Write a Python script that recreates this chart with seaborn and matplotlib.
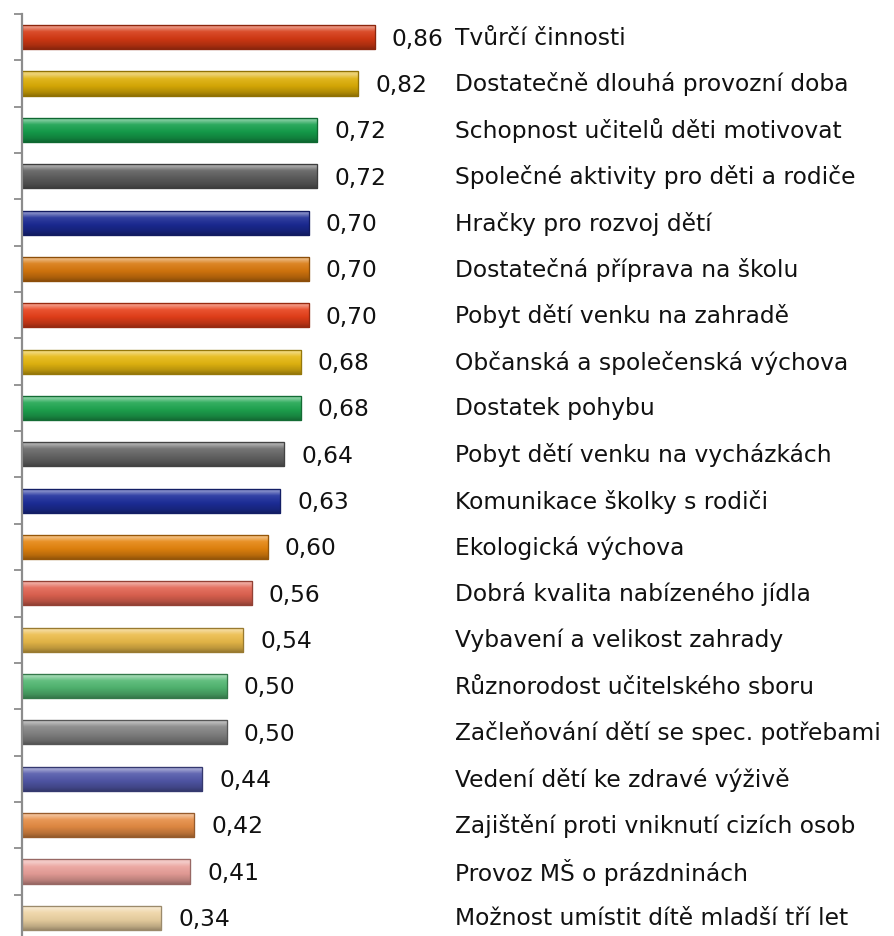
import numpy as np
import pandas as pd
import matplotlib
matplotlib.use("Agg")
import matplotlib.pyplot as plt
import matplotlib.colors as mcolors
import seaborn as sns

categories = [
    "Tvůrčí činnosti",
    "Dostatečně dlouhá provozní doba",
    "Schopnost učitelů děti motivovat",
    "Společné aktivity pro děti a rodiče",
    "Hračky pro rozvoj dětí",
    "Dostatečná příprava na školu",
    "Pobyt dětí venku na zahradě",
    "Občanská a společenská výchova",
    "Dostatek pohybu",
    "Pobyt dětí venku na vycházkách",
    "Komunikace školky s rodiči",
    "Ekologická výchova",
    "Dobrá kvalita nabízeného jídla",
    "Vybavení a velikost zahrady",
    "Různorodost učitelského sboru",
    "Začleňování dětí se spec. potřebami",
    "Vedení dětí ke zdravé výživě",
    "Zajištění proti vniknutí cizích osob",
    "Provoz MŠ o prázdninách",
    "Možnost umístit dítě mladší tří let",
]
values = [0.86, 0.82, 0.72, 0.72, 0.70, 0.70, 0.70, 0.68, 0.68, 0.64,
          0.63, 0.60, 0.56, 0.54, 0.50, 0.50, 0.44, 0.42, 0.41, 0.34]
value_labels = ["0,86", "0,82", "0,72", "0,72", "0,70", "0,70", "0,70", "0,68", "0,68", "0,64",
                "0,63", "0,60", "0,56", "0,54", "0,50", "0,50", "0,44", "0,42", "0,41", "0,34"]
bar_colors = [
    "#D63A14", "#DDAE06", "#15A04C", "#5E5E5E", "#1B2A95", "#D8780E",
    "#E8401A", "#E6B810", "#1EA650", "#676767", "#1D2E9C", "#E6850E",
    "#E26452", "#ECBC4A", "#52B872", "#848484", "#5258AA", "#E68C44",
    "#EAA09A", "#EED4A4",
]

df = pd.DataFrame({"cat": categories, "val": values})

sns.set_style("white")
plt.rcParams['font.family'] = ['DejaVu Sans']

W, H = 895, 936
fig = plt.figure(figsize=(W / 100, H / 100), dpi=100)
px_unit = 410.0
left_px, top_px, step = 22.0, 14.0, 46.35
n = len(categories)
ax = fig.add_axes([left_px / W, 1 - (top_px + n * step) / H, px_unit / W, n * step / H])

sns.barplot(data=df, x="val", y="cat", hue="cat", palette=bar_colors, legend=False,
            orient="h", width=0.52, ax=ax, saturation=1)

ax.set_xlim(0, 1)
ax.set_ylim(n - 0.5, -0.5)

# bevel / gradient effect
def shade(c, f):
    r, g, b = mcolors.to_rgb(c)
    if f >= 0:
        return (r + (1 - r) * f, g + (1 - g) * f, b + (1 - b) * f)
    f = -f
    return (r * (1 - f), g * (1 - f), b * (1 - f))

for patch, col in zip(ax.patches, bar_colors):
    x0, y0 = patch.get_x(), patch.get_y()
    w, h = patch.get_width(), patch.get_height()
    stops = [0.0, 0.12, 0.3, 0.6, 0.85, 1.0]
    facs = [0.35, 0.45, 0.1, -0.05, -0.2, -0.35]
    t = np.linspace(0, 1, 64)
    rgb = np.array([np.interp(t, stops, [shade(col, f)[k] for f in facs]) for k in range(3)]).T
    img = rgb[:, None, :]
    im = ax.imshow(img, extent=[x0, x0 + w, y0 + h, y0], aspect="auto",
                   interpolation="bilinear", zorder=patch.get_zorder() + 0.1)
    im.set_clip_path(patch)
    patch.set_edgecolor(shade(col, -0.4))
    patch.set_linewidth(0.8)
    edge = plt.Rectangle((x0, y0), w, h, fill=False, edgecolor=shade(col, -0.35),
                         linewidth=0.9, zorder=patch.get_zorder() + 0.2)
    ax.add_patch(edge)

# labels
for i, (v, lab, cat) in enumerate(zip(values, value_labels, categories)):
    ax.text(v + 17 / px_unit, i + 0.04, lab, va="center", ha="left", fontsize=16.8, color="#111111")
    ax.text((455 - left_px) / px_unit, i + 0.02, cat, va="center", ha="left", fontsize=16.8,
            color="#111111", clip_on=False)

ax.set_xlabel("")
ax.set_ylabel("")
ax.set_xticks([])
ax.set_yticks([])
ax.set_yticks(np.arange(-0.5, n, 1.0), minor=True)
ax.tick_params(axis="y", which="minor", left=True, length=6, width=1.3, color="#8C8C8C", direction="out")
for s in ["top", "right", "bottom"]:
    ax.spines[s].set_visible(False)
ax.spines["left"].set_color("#8C8C8C")
ax.spines["left"].set_linewidth(1.6)
ax.patch.set_alpha(0)

fig.savefig("out.png", dpi=100)
